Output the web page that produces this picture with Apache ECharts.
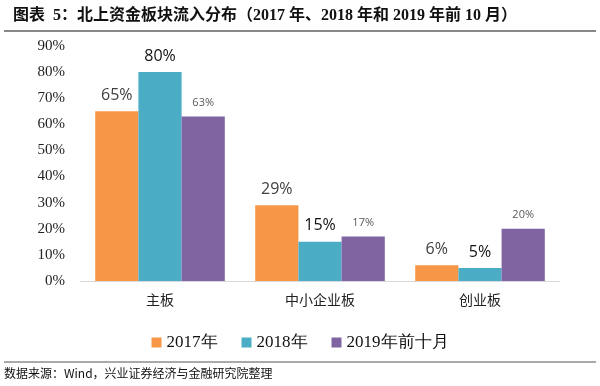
<!DOCTYPE html>
<html><head><meta charset="utf-8">
<script src="https://cdn.jsdelivr.net/npm/echarts@6/dist/echarts.min.js"></script>
<style>html,body{margin:0;padding:0;background:#fff}#c{width:600px;height:386px}</style>
</head><body><div id="c"></div>
<script>
var categories = ['主板', '中小企业板', '创业板'];
var seriesNames = ['2017年', '2018年', '2019年前十月'];
var v2017 = [65, 29, 6];
var v2018 = [80, 15, 5];
var v2019 = [63, 17, 20];
var colors = ['#F79646', '#4BACC6', '#8064A2'];

var chart = echarts.init(document.getElementById('c'));
var lblStyles = [
  {fontSize: 16, color: '#404040', fontFamily: 'Open Sans, Noto Sans, sans-serif'},
  {fontSize: 16, color: '#111', fontFamily: 'Open Sans, Noto Sans, sans-serif'},
  {fontSize: 11, color: '#595959', fontFamily: 'Open Sans, Noto Sans, sans-serif'}
];
var vals = [v2017, v2018, v2019];
chart.setOption({
  animation: false,
  graphic: [
    {type: 'text', left: 13, top: 8, style: {text: '图表  5：北上资金板块流入分布（2017 年、2018 年和 2019 年前 10 月）', font: 'bold 16px "Liberation Serif", "Noto Sans CJK SC", serif', fill: '#111'}},
    {type: 'line', shape: {x1: 4, y1: 31, x2: 596, y2: 31}, style: {stroke: '#888', lineWidth: 2}},
    {type: 'line', shape: {x1: 4, y1: 362, x2: 596, y2: 362}, style: {stroke: '#555', lineWidth: 1}},
    {type: 'text', left: 4, top: 367, style: {text: '数据来源：Wind，兴业证券经济与金融研究院整理', font: '12px "Noto Sans CJK SC", sans-serif', fill: '#111'}}
  ],
  legend: {
    data: seriesNames, bottom: 30, left: 'center', itemWidth: 10, itemHeight: 10, itemGap: 24,
    icon: 'rect',
    textStyle: {fontFamily: 'Liberation Serif, serif', fontSize: 17, color: '#111'}
  },
  grid: {left: 80, right: 40, top: 46, bottom: 105},
  xAxis: {
    type: 'category', data: categories,
    axisTick: {show: false},
    axisLine: {lineStyle: {color: '#d9d9d9'}},
    axisLabel: {fontSize: 14, color: '#222', margin: 12, fontFamily: '"Noto Sans CJK SC", sans-serif'}
  },
  yAxis: {
    type: 'value', min: 0, max: 90, interval: 10,
    splitLine: {show: false},
    axisLine: {show: false},
    axisLabel: {formatter: '{value}%', fontFamily: 'Liberation Serif, serif', fontSize: 15, color: '#222', margin: 15}
  },
  series: seriesNames.map(function (n, i) {
    return {
      name: n, type: 'bar', data: vals[i], barGap: '0%', barCategoryGap: '19%',
      itemStyle: {color: colors[i]},
      label: {show: true, position: 'top', distance: i === 2 ? 8 : 8, formatter: '{c}%', fontSize: lblStyles[i].fontSize, color: lblStyles[i].color, fontFamily: lblStyles[i].fontFamily}
    };
  })
});
</script></body></html>
